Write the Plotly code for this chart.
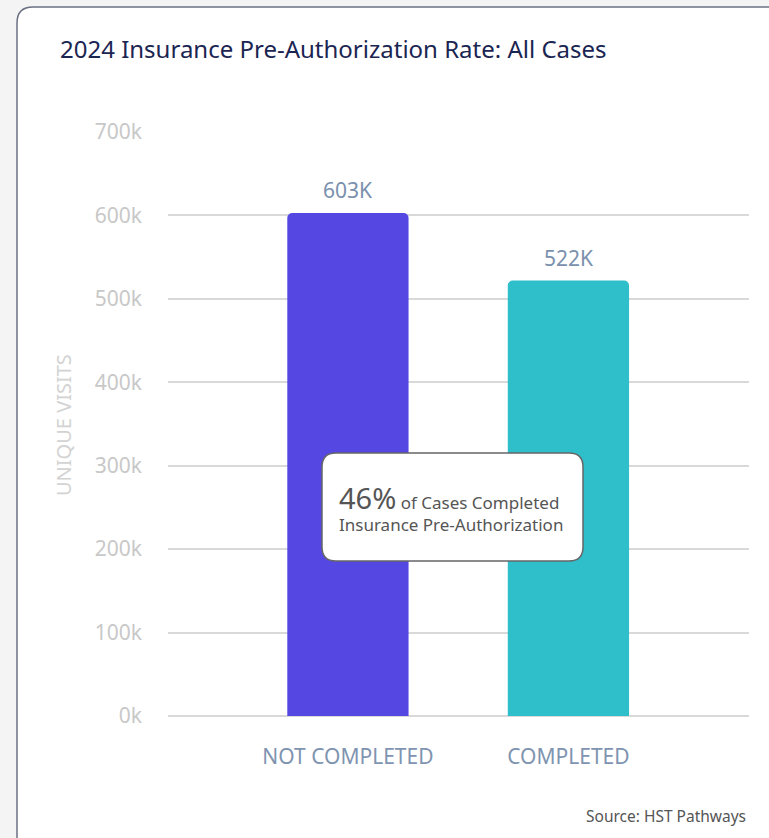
import plotly.graph_objects as go

categories = ["NOT COMPLETED", "COMPLETED"]
values = [603000, 522000]
value_labels = ["603K", "522K"]
bar_colors = ["#5548E2", "#2FBFCA"]
y_ticks = [0, 100000, 200000, 300000, 400000, 500000, 600000, 700000]
y_tick_labels = ["0k", "100k", "200k", "300k", "400k", "500k", "600k", "700k"]

FONT = "Noto Sans"
W, H = 769, 838
L, R, T, B = 168, 20, 132, 122

x_idx = list(range(len(categories)))

fig = go.Figure()
fig.add_trace(go.Bar(
    x=x_idx, y=values,
    marker=dict(color=bar_colors, cornerradius=5, line=dict(width=0)),
    width=0.55, hoverinfo="skip",
))

pw = W - L - R
ph = H - T - B


def px_x(p):
    return (p - L) / pw


def px_y(p):
    return (H - B - p) / ph


def rr_path(x0, y0, x1, y1, r):
    def P(x, y):
        return f"{px_x(x):.5f},{px_y(y):.5f}"
    return (f"M {P(x0 + r, y0)} L {P(x1 - r, y0)} Q {P(x1, y0)} {P(x1, y0 + r)} "
            f"L {P(x1, y1 - r)} Q {P(x1, y1)} {P(x1 - r, y1)} "
            f"L {P(x0 + r, y1)} Q {P(x0, y1)} {P(x0, y1 - r)} "
            f"L {P(x0, y0 + r)} Q {P(x0, y0)} {P(x0 + r, y0)} Z")


shapes = [
    dict(type="path", xref="paper", yref="paper", layer="below",
         path=rr_path(17, 7, 790, 880, 16),
         fillcolor="white", line=dict(color="#6B7183", width=1.5)),
    dict(type="path", xref="paper", yref="paper", layer="above",
         path=rr_path(322, 453, 583, 561, 14),
         fillcolor="white", line=dict(color="#666666", width=1.5)),
]

annotations = [
    dict(x=xi, y=v, xref="x", yref="y", text=lbl, showarrow=False,
         yanchor="middle", yshift=23,
         font=dict(family=FONT, size=21, color="#7A90AD"))
    for xi, v, lbl in zip(x_idx, values, value_labels)
]

annotations += [
    dict(xref="paper", yref="paper", x=px_x(337), y=px_y(507),
         xanchor="left", yanchor="middle", align="left", showarrow=False,
         text="<span style='font-size:29px'>46%</span> of Cases Completed<br>Insurance Pre-Authorization",
         font=dict(family=FONT, size=17, color="#555555")),
    dict(xref="paper", yref="paper", x=px_x(63), y=px_y(425), textangle=-90,
         xanchor="center", yanchor="middle", showarrow=False,
         text="UNIQUE VISITS", font=dict(family=FONT, size=20, color="#D3D3D3")),
    dict(xref="paper", yref="paper", x=px_x(748), y=px_y(816),
         xanchor="right", yanchor="middle", showarrow=False,
         text="Source: HST Pathways", font=dict(family=FONT, size=15.5, color="#555555")),
]

fig.update_layout(
    width=W, height=H,
    margin=dict(l=L, r=R, t=T, b=B, autoexpand=False),
    paper_bgcolor="#F4F4F5", plot_bgcolor="rgba(0,0,0,0)",
    showlegend=False,
    title=dict(text="2024 Insurance Pre-Authorization Rate: All Cases",
               xref="container", yref="container", x=60 / W, y=1 - 50 / H,
               xanchor="left", yanchor="middle",
               font=dict(family=FONT, size=24, color="#1B2552")),
    xaxis=dict(range=[-0.816, 1.819], tickvals=x_idx,
               ticktext=categories, showgrid=False, zeroline=False, showline=False,
               ticks="", ticklabelstandoff=26,
               tickfont=dict(family=FONT, size=21, color="#7F94B0")),
    yaxis=dict(range=[0, 700000], tickvals=y_ticks, ticktext=y_tick_labels,
               showgrid=True, gridcolor="#D9D9D9", gridwidth=1.5,
               zeroline=True, zerolinecolor="#D9D9D9", zerolinewidth=1.5,
               showline=False, ticks="", ticklabelstandoff=25,
               tickfont=dict(family=FONT, size=21, color="#C8C8C8")),
    shapes=shapes, annotations=annotations,
)

fig.write_html("out.html", config={"displayModeBar": False},
               post_script="document.body.style.margin='0';")
